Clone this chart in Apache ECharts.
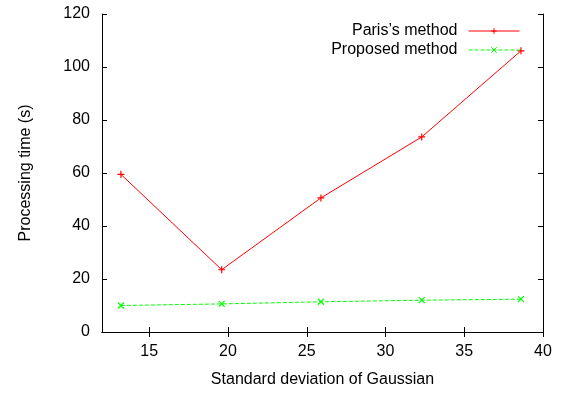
<!DOCTYPE html>
<html>
<head>
<meta charset="utf-8">
<script src="https://cdn.jsdelivr.net/npm/echarts@6/dist/echarts.min.js"></script>
<style>html,body{margin:0;padding:0;background:#fff;}#c{width:571px;height:393px;}</style>
</head>
<body>
<div id="c"></div>
<script>
const sigma = [13.2, 19.6, 25.9, 32.3, 38.6];
const parisTime = [59.5, 23.5, 50.6, 73.6, 106.1];
const proposedTime = [10.0, 10.6, 11.4, 12.0, 12.4];
const xTicks = [15, 20, 25, 30, 35, 40];
const yTicks = [0, 20, 40, 60, 80, 100, 120];
const seriesNames = ['Paris\u2019s method', 'Proposed method'];

const FONT = 'Liberation Sans, Arial, sans-serif';
const plus = 'path://M0,-1L0,1M-1,0L1,0';
const cross = 'path://M-1,-1L1,1M-1,1L1,-1';
const chart = echarts.init(document.getElementById('c'), null, {renderer: 'canvas'});
const axisLine = {show: true, lineStyle: {color: '#000', width: 1}};
const tick = {show: true, inside: true, length: 5, lineStyle: {color: '#000', width: 1}};
function legendFor(name, top) {
  return {data: [name], right: 51, top: top, align: 'right', orient: 'vertical',
    itemWidth: 51, itemHeight: 7, itemGap: 0, padding: 0,
    lineStyle: {width: 1},
    itemStyle: {borderWidth: 1},
    textStyle: {fontFamily: FONT, fontSize: 16, color: '#000', padding: [0, 6, 0, 0]}};
}
chart.setOption({
  animation: false,
  backgroundColor: '#fff',
  grid: {left: 102, top: 14, right: 28, bottom: 61, containLabel: false},
  legend: [legendFor(seriesNames[0], 23), legendFor(seriesNames[1], 42)],
  xAxis: [
    {type: 'value', position: 'bottom', min: 12, max: 40,
     name: 'Standard deviation of Gaussian', nameLocation: 'middle', nameGap: 40,
     nameTextStyle: {fontFamily: FONT, fontSize: 16, color: '#000'},
     axisLine: axisLine,
     axisTick: Object.assign({customValues: xTicks}, tick),
     axisLabel: {customValues: xTicks, fontFamily: FONT, fontSize: 16, color: '#000', margin: 12},
     splitLine: {show: false}},
    {type: 'value', position: 'top', min: 12, max: 40,
     axisLine: axisLine,
     axisTick: Object.assign({customValues: xTicks}, tick),
     axisLabel: {show: false, customValues: xTicks},
     splitLine: {show: false}}
  ],
  yAxis: [
    {type: 'value', position: 'left', min: 0, max: 120, interval: 20,
     name: 'Processing time (s)', nameLocation: 'middle', nameGap: 68,
     nameTextStyle: {fontFamily: FONT, fontSize: 16, color: '#000'},
     axisLine: axisLine, axisTick: tick,
     axisLabel: {fontFamily: FONT, fontSize: 16, color: '#000', margin: 12},
     splitLine: {show: false}},
    {type: 'value', position: 'right', min: 0, max: 120, interval: 20,
     axisLine: axisLine, axisTick: tick, axisLabel: {show: false},
     splitLine: {show: false}}
  ],
  series: [
    {name: seriesNames[0], type: 'line', xAxisIndex: 0, yAxisIndex: 0,
     data: sigma.map((x, i) => [x, parisTime[i]]),
     symbol: plus, symbolSize: 7, showSymbol: true,
     lineStyle: {color: '#ff0000', width: 1},
     itemStyle: {color: '#ff0000', borderColor: '#ff0000', borderWidth: 1.2}},
    {name: seriesNames[1], type: 'line', xAxisIndex: 0, yAxisIndex: 0,
     data: sigma.map((x, i) => [x, proposedTime[i]]),
     symbol: cross, symbolSize: 6, showSymbol: true,
     lineStyle: {color: '#00ff00', width: 1, type: [4, 2]},
     itemStyle: {color: '#00ff00', borderColor: '#00ff00', borderWidth: 1.2}}
  ]
});
</script>
</body>
</html>
